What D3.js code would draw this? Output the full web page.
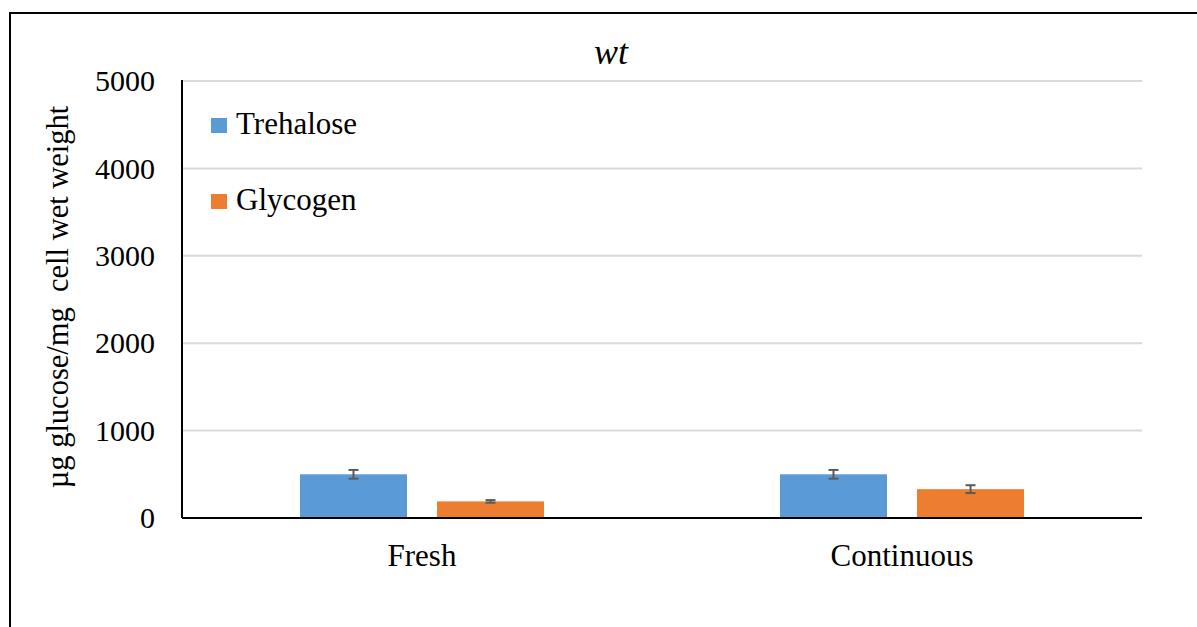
<!DOCTYPE html>
<html>
<head>
<meta charset="utf-8">
<script src="https://cdn.jsdelivr.net/npm/d3@7"></script>
<style>
  html, body { margin: 0; padding: 0; background: #fff; }
  text { font-family: "Liberation Serif", "Times New Roman", serif; fill: #000; }
</style>
</head>
<body>
<svg id="chart" width="1197" height="627"></svg>
<script>
const categories = ["Fresh", "Continuous"];
const seriesNames = ["Trehalose", "Glycogen"];
const trehalose = [500, 500];
const trehaloseErr = [50, 50];
const glycogen = [190, 330];
const glycogenErr = [15, 45];
const yTicks = [0, 1000, 2000, 3000, 4000, 5000];
const colors = ["#5B9BD5", "#ED7D31"];
const title = "wt";
const yLabel = "µg glucose/mg\u00A0 cell wet weight";

const svg = d3.select("#chart");
const m = { left: 182, right: 1142, top: 81, bottom: 518 };

// frame
svg.append("rect").attr("x", 10).attr("y", 13).attr("width", 1300).attr("height", 800)
  .attr("fill", "none").attr("stroke", "#000").attr("stroke-width", 2);

const x0 = d3.scaleBand().domain(categories).range([m.left, m.right]).paddingInner(0).paddingOuter(0);
const x1 = d3.scaleBand().domain(seriesNames).range([0, x0.bandwidth()]).paddingInner(0.219).paddingOuter(0.861);
const y = d3.scaleLinear().domain([0, 5000]).range([m.bottom, m.top]);

// gridlines
svg.append("g").selectAll("line").data(yTicks.filter(d => d > 0)).join("line")
  .attr("x1", m.left).attr("x2", m.right)
  .attr("y1", d => y(d)).attr("y2", d => y(d))
  .attr("stroke", "#D9D9D9").attr("stroke-width", 2);

// y tick labels
svg.append("g").selectAll("text").data(yTicks).join("text")
  .attr("x", m.left - 27).attr("y", d => y(d)).attr("dy", "0.34em")
  .attr("text-anchor", "end").attr("font-size", 30)
  .text(d => d);

const series = [
  { name: seriesNames[0], values: trehalose, errs: trehaloseErr, color: colors[0] },
  { name: seriesNames[1], values: glycogen, errs: glycogenErr, color: colors[1] }
];

const data = [];
series.forEach(s => categories.forEach((c, i) => data.push({ cat: c, name: s.name, v: s.values[i], e: s.errs[i], color: s.color })));

svg.append("g").selectAll("rect").data(data).join("rect")
  .attr("x", d => x0(d.cat) + x1(d.name))
  .attr("width", x1.bandwidth())
  .attr("y", d => y(d.v))
  .attr("height", d => y(0) - y(d.v))
  .attr("fill", d => d.color);

// error bars
const eg = svg.append("g").attr("stroke", "#595959").attr("stroke-width", 2);
data.forEach(d => {
  const cx = x0(d.cat) + x1(d.name) + x1.bandwidth() / 2;
  eg.append("line").attr("x1", cx).attr("x2", cx).attr("y1", y(d.v + d.e)).attr("y2", y(d.v - d.e));
  [d.v + d.e, d.v - d.e].forEach(v => {
    eg.append("line").attr("x1", cx - 5).attr("x2", cx + 5).attr("y1", y(v)).attr("y2", y(v));
  });
});

// axes lines
svg.append("line").attr("x1", m.left).attr("x2", m.left).attr("y1", m.top - 1).attr("y2", m.bottom)
  .attr("stroke", "#000").attr("stroke-width", 2);
svg.append("line").attr("x1", m.left).attr("x2", m.right).attr("y1", m.bottom).attr("y2", m.bottom)
  .attr("stroke", "#000").attr("stroke-width", 2);

// category labels
svg.append("g").selectAll("text").data(categories).join("text")
  .attr("x", d => x0(d) + x0.bandwidth() / 2).attr("y", 566)
  .attr("text-anchor", "middle").attr("font-size", 31)
  .text(d => d);

// title
svg.append("text").attr("x", 611).attr("y", 64).attr("text-anchor", "middle")
  .attr("font-size", 36).attr("font-style", "italic").text(title);

// y label
svg.append("text").attr("transform", "translate(68,297) rotate(-90)")
  .attr("text-anchor", "middle").attr("font-size", 30.5).text(yLabel);

// legend
const lg = svg.append("g");
series.forEach((s, i) => {
  const by = 134 + i * 76;
  lg.append("rect").attr("x", 211).attr("y", by - 16).attr("width", 16).attr("height", 15).attr("fill", s.color);
  lg.append("text").attr("x", 236).attr("y", by).attr("font-size", 31).text(s.name);
});
</script>
</body>
</html>
